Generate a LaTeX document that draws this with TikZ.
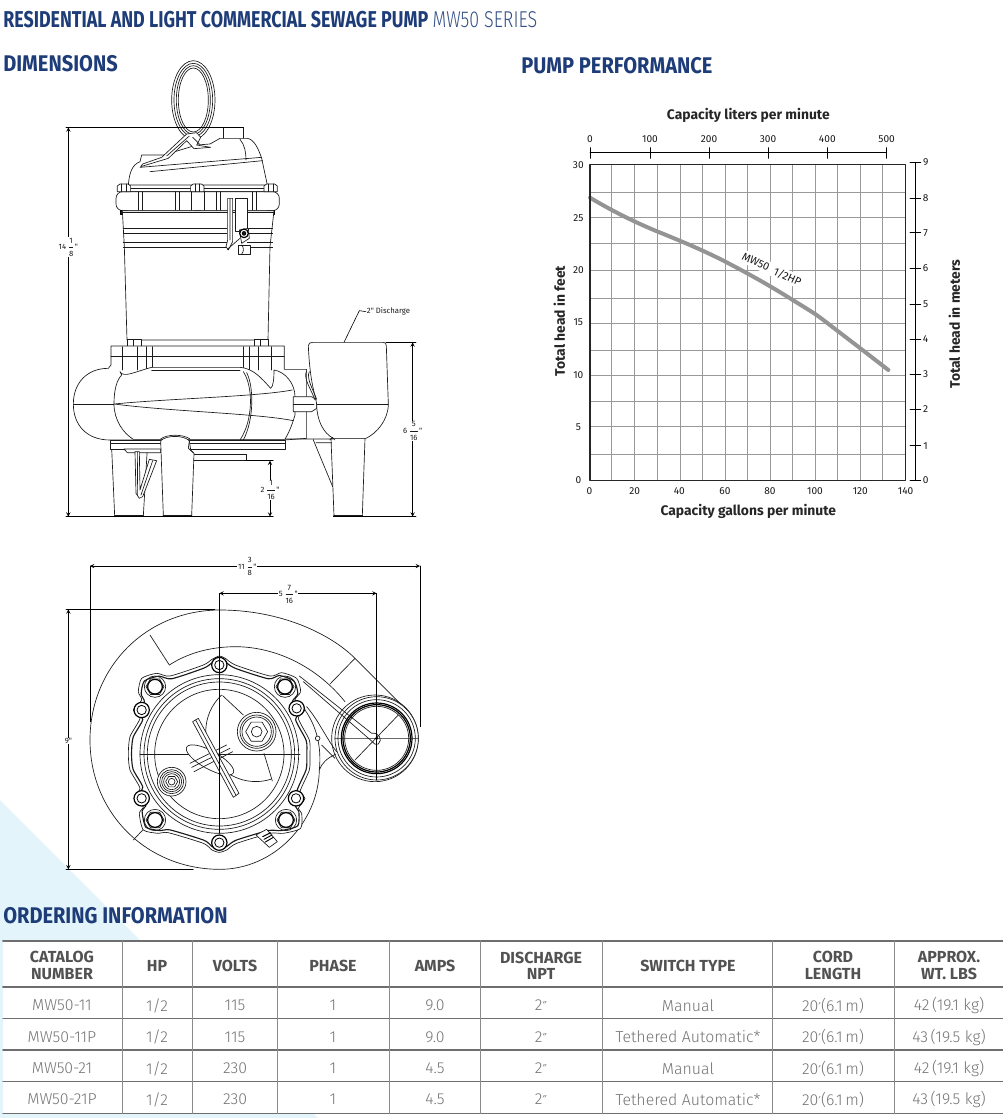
\documentclass[tikz,border=0pt]{standalone}
\usepackage{fontspec}
\setmainfont{Fira Sans}
\newfontfamily\headfont[FakeStretch=0.885]{Fira Sans}
\newfontfamily\titlefont[FakeStretch=0.78]{Fira Sans}
\newfontfamily\thinfont[FakeStretch=0.78]{Fira Sans Light}
\newfontfamily\lightfont{Fira Sans Light}
\newfontfamily\markfont{DejaVu Sans}
\definecolor{headblue}{HTML}{1D3C78}
\definecolor{paleblue}{HTML}{E3F5FA}
\definecolor{inkgray}{HTML}{1A1A1A}
\definecolor{cellgray}{HTML}{747474}
\definecolor{rulegray}{HTML}{6E6E6E}
\tikzset{
	heading/.style={anchor=base west,inner sep=0pt,text=headblue},
	pumpline/.style={line width=.5pt,draw=inkgray},
	dimline/.style={line width=.45pt,draw=black},
	dimlabel/.style={fill=white,inner sep=.5pt,font=\fontsize{5.8}{6}\selectfont,text=inkgray},
	axisnum/.style={font=\fontsize{7.6}{9}\selectfont,text=inkgray,inner sep=0pt},
	axistitle/.style={font=\fontsize{10.4}{12}\selectfont\bfseries,text=black!85,inner sep=0pt},
	cellhead/.style={font=\fontsize{12}{12.2}\selectfont\bfseries,text=black!68,align=center,inner sep=0pt},
	cellbody/.style={font=\lightfont\fontsize{11.9}{13}\selectfont,text=cellgray,inner sep=0pt},
}
\newcommand{\hexat}[3]{\draw[pumpline,shift={(#1,#2)}] (0:#3)--(60:#3)--(120:#3)--(180:#3)--(240:#3)--(300:#3)--cycle;}
\newcommand{\dimfrac}[3]{#1\,$\displaystyle\frac{\mbox{#2}}{\mbox{#3}}$\textquotedbl}
\newcommand{\inchmark}{{\markfont\fontsize{9}{9}\selectfont ″}}
\newcommand{\footmark}{{\markfont\fontsize{9}{9}\selectfont ′}}
\begin{document}
\begin{tikzpicture}[x=.75pt,y=-.75pt,>=stealth,line join=round,line cap=round]
	\useasboundingbox (0,0) rectangle (1003,1118);
	% background corner
	\fill[paleblue] (0,800)--(318,1118)--(0,1118)--cycle;
	% headings
	\node[heading] (title) at (3,27) {\titlefont\fontsize{17.2}{20}\selectfont\bfseries RESIDENTIAL AND LIGHT COMMERCIAL SEWAGE PUMP \thinfont\mdseries\color{headblue!90}MW50 SERIES};
	\node[heading] (dims) at (3,71) {\headfont\fontsize{17}{20}\selectfont\bfseries DIMENSIONS};
	\node[heading] (perf) at (521,73) {\headfont\fontsize{17}{20}\selectfont\bfseries PUMP PERFORMANCE};
	\node[heading] (order) at (3,923) {\headfont\fontsize{17}{20}\selectfont\bfseries ORDERING INFORMATION};

	% side view of the pump
	\begin{scope}[shift={(40,50)},scale=1/3]
		\foreach \rx/\ry in {65/118,58/110,51/103,45/96}
			\draw[pumpline] (460,150) ellipse ({\rx} and {\ry});
		% head
		\draw[pumpline,fill=white] (550,232) rectangle (610,268);
		\draw[pumpline,fill=white] (265,405) .. controls (268,370) and (275,345) .. (300,335) -- (305,315) -- (372,315) -- (470,285) -- (510,282) -- (540,265) -- (622,265) .. controls (642,268) and (655,295) .. (665,325) -- (682,405) -- cycle;
		\draw[pumpline] (300,352)--(665,322) (330,365)--(668,332) (600,268) .. controls (615,285) and (618,310) .. (618,330);
		\draw[pumpline,fill=white] (365,322)--(440,252)--(470,248)--(482,262)--(470,285)--(512,292)--(462,296)--(440,272)--(385,325)--(302,350)--(308,342)--cycle;
		\draw[pumpline] (380,318)--(448,258) (458,262)--(478,282);
		% flange and bolts
		\draw[pumpline,fill=white] (262,415)--(682,415)--(682,425)--(262,425)--cycle;
		\draw[pumpline,fill=white,rounded corners=5pt] (228,425) rectangle (718,482);
		\foreach \bx in {252,472,692} {
			\draw[pumpline,fill=white] (\bx-20,425)--(\bx-20,408)--(\bx-12,402)--(\bx+12,402)--(\bx+20,408)--(\bx+20,425)--cycle;
			\draw[pumpline] (\bx-7,402)--(\bx-7,425) (\bx+7,402)--(\bx+7,425);
			\draw[fill=inkgray] (\bx-10,482) rectangle (\bx+10,492);
		}
		\foreach \fx in {295,307,405,418,453,492,528,540,638,650}
			\draw[pumpline] (\fx,425)--(\fx,482);
		% motor housing
		\draw[pumpline,fill=white] (247,482)--(253,590)--(261,870)--(684,870)--(690,590)--(702,482)--cycle;
		\draw[pumpline] (247,487)--(702,487);
		\foreach \by in {535,550,578,592}
			\draw[pumpline] (250,\by)--(560,\by) (622,\by)--(698,\by);
		% switch bracket and cord clamp
		\draw[pumpline,fill=white] (563,445)--(578,445)--(578,575)--(565,600)--(558,590)--(563,570)--cycle;
		\draw[pumpline,fill=white] (587,445)--(622,445)--(622,545)--(587,545)--cycle;
		\draw[pumpline] (570,445)--(570,570) (562,598)--(600,565);
		\draw[pumpline,fill=white] (598,540)--(625,535)--(628,565)--(605,580)--cycle;
		\draw[line width=.9pt,fill=white] (612,550) circle (13);
		\draw[fill=inkgray] (612,550) circle (6);
		\draw[pumpline,fill=white] (595,585) rectangle (630,612);
		\draw[pumpline] (605,585) .. controls (612,592) and (612,605) .. (605,612);
		% volute
		\draw[pumpline,fill=white] (262,868) rectangle (305,890) (642,868) rectangle (685,890);
		\draw[pumpline] (280,868)--(280,890) (660,868)--(660,890);
		\draw[pumpline,fill=white] (213,888)--(733,888)--(733,958)--(800,958)--(800,1165)--(733,1170)--(210,1170) .. controls (140,1170) and (100,1125) .. (100,1062) .. controls (100,1000) and (140,955) .. (205,955) -- (213,945) -- cycle;
		\draw[pumpline] (213,920)--(733,920) (100,1062)--(222,1062);
		\foreach \nx in {248,292,320,336,610,628,655,695}
			\draw[pumpline] (\nx,890)--(\nx,960);
		\draw[pumpline,fill=white] (240,965) .. controls (250,985) and (285,965) .. (335,952) -- (600,952) .. controls (640,955) and (665,985) .. (692,1015) .. controls (700,1010) and (702,985) .. (702,960) .. controls (735,965) and (765,1000) .. (765,1040) -- (765,1095) .. controls (755,1130) and (745,1150) .. (735,1168) -- (280,1168) .. controls (250,1150) and (222,1110) .. (222,1062) .. controls (222,1020) and (230,990) .. (245,975) -- cycle;
		\draw[pumpline] (335,960)--(600,960);
		\draw[pumpline] (222,1062) .. controls (400,1045) and (650,1040) .. (757,1020) (222,1062) .. controls (400,1085) and (650,1090) .. (760,1112);
		\draw[pumpline] (610,965) .. controls (640,1010) and (640,1110) .. (600,1170) (620,968) .. controls (642,1010) and (642,1110) .. (610,1170);
		% discharge
		\draw[pumpline,fill=white] (760,1040)--(815,1040)--(830,1050)--(830,1075)--(815,1085)--(760,1085)--cycle;
		\draw[pumpline] (760,1062)--(822,1062);
		\draw[pumpline,fill=white] (805,888) .. controls (805,880) and (810,877) .. (818,877) -- (1030,877) .. controls (1036,877) and (1039,880) .. (1039,888) -- (1045,1062) .. controls (1045,1110) and (1010,1150) .. (978,1165) -- (880,1165) .. controls (850,1150) and (830,1110) .. (830,1062) .. controls (825,1030) and (810,1000) .. (805,888) -- cycle;
		\draw[pumpline] (830,1062)--(1045,1062);
		\draw[pumpline] (800,962) .. controls (788,985) and (815,1020) .. (825,1050) (808,965) .. controls (798,985) and (820,1020) .. (830,1048);
		% feet and struts
		\draw[pumpline,fill=white] (215,1195)--(224,1397)--(310,1397)--(322,1195)--cycle;
		\draw[pumpline,fill=white] (455,1212)--(618,1212)--(618,1232)--(455,1232)--cycle;
		\draw[pumpline,fill=white] (212,1170)--(735,1170)--(735,1197)--(212,1197)--cycle;
		\draw[pumpline] (212,1180)--(735,1180);
		\draw[pumpline,fill=white] (252,1197)--(262,1208)--(362,1208)--(362,1197)--cycle;
		\draw[pumpline,fill=white] (362,1172) .. controls (380,1155) and (430,1155) .. (448,1172) -- (452,1200) -- (462,1210) -- (455,1397) -- (370,1397) -- cycle;
		\draw[pumpline] (362,1167) .. controls (380,1152) and (430,1152) .. (450,1167) (448,1172)--(445,1195)--(460,1208);
		\draw[pumpline,fill=white] (285,1205)--(288,1330)--(298,1345)--(308,1340)--(350,1232)--(328,1228)--(300,1320)--(298,1205)--cycle;
		\draw[pumpline] (292,1205)--(293,1335) (338,1232)--(303,1335);
		\draw[pumpline,fill=white] (873,1165)--(882,1397)--(967,1397)--(975,1165)--cycle;
		\draw[pumpline] (735,1167)--(880,1167) (820,1170)--(878,1310) (828,1178)--(875,1178) (870,1170)--(877,1162)--(885,1170);
		\draw[pumpline,line width=.9pt] (224,1397)--(310,1397) (370,1397)--(455,1397) (882,1397)--(967,1397);
		% dimensions
		\draw[dimline] (78,232)--(610,232) (78,1400)--(700,1400) (880,1400)--(1128,1400) (618,1232)--(700,1232) (1038,877)--(1128,877);
		\draw[dimline,<->] (85,232)--(85,1400);
		\draw[dimline,<->] (690,1232)--(690,1400);
		\draw[dimline,<->] (1118,877)--(1118,1400);
		\node[dimlabel] (dimall) at (85,592) {\dimfrac{14}{1}{8}};
		\node[dimlabel] (dimfoot) at (690,1320) {\dimfrac{2}{1}{16}};
		\node[dimlabel] (dimdis) at (1118,1143) {\dimfrac{6}{5}{16}};
		\node[dimlabel,anchor=west,fill=none] (dislabel) at (978,785) {2\textquotedbl{} Discharge};
		\coordinate (disfoot) at (912,877);
		\draw[dimline] (disfoot)--(958,782)--(dislabel.west);
	\end{scope}

	% top view of the pump
	\begin{scope}[shift={(40,550)},scale=1/3]
		% volute
		\draw[pumpline] (1085,465)--(945,325) .. controls (870,250) and (720,180) .. (540,180) .. controls (320,180) and (150,350) .. (150,570) .. controls (150,790) and (320,958) .. (540,958) .. controls (700,958) and (835,820) .. (838,660) .. controls (845,640) and (860,625) .. (888,612);
		\draw[pumpline] (388,345) .. controls (450,305) and (520,290) .. (590,290) .. controls (710,292) and (830,350) .. (915,455);
		\draw[pumpline] (330,255)--(388,345) (945,325)--(870,402) (280,870)--(312,836);
		\draw[pumpline] (795,480) .. controls (830,530) and (845,590) .. (838,660) (800,470) .. controls (835,510) and (865,575) .. (890,605) (845,585)--(885,625);
		% discharge ring
		\draw[pumpline] (1005,565) circle (130);
		\draw[pumpline,fill=white] (1010,565) circle (125);
		\draw[pumpline] (1010,565) circle (116);
		\draw[line width=.9pt] (1010,565) circle (106);
		\draw[line width=.9pt] (1010,565) circle (101);
		\draw[pumpline] (1010,565) circle (96);
		\draw[pumpline] (885,565)--(1135,565) (1010,432)--(1010,690) (945,630)--(1075,495);
		\draw[pumpline] (778,378)--(995,550) .. controls (1015,545) and (1030,570) .. (1015,582) .. controls (1005,585) and (1000,580) .. (997,575) -- (790,395);
		\draw[fill=inkgray] (1010,565) circle (4);
		% head plate
		\foreach \sc/\lw in {1/.5,.965/.85} {
			\draw[draw=inkgray,line width=\lw pt,fill=white,shift={(538,612)},scale=\sc] plot[smooth cycle,tension=.4] coordinates {(0,-294)(18,-287)(48,-267)(152,-234)(187,-244)(232,-227)(244,-187)(227,-162)(257,-134)(237,-107)(270,-42)(272,0)(270,48)(242,113)(257,133)(237,163)(247,178)(244,223)(192,238)(152,238)(52,268)(22,288)(0,295)(-22,288)(-48,268)(-153,236)(-183,238)(-228,228)(-240,178)(-228,158)(-256,133)(-238,103)(-268,48)(-273,0)(-268,-52)(-238,-107)(-258,-132)(-233,-162)(-243,-187)(-233,-227)(-188,-242)(-148,-234)(-48,-267)(-22,-284)};
		}
		\foreach \r in {238,226,216,194}
			\draw[pumpline] (538,612) circle (\r);
		\draw[pumpline] (300,612)--(780,612);
		% handle, float and plugs
		\draw[pumpline] (548,437)--(610,495) (672,610)--(697,693);
		\draw[pumpline] (545,435) arc (-133:-288:150);
		\foreach \r in {58,50,44}
			\draw[pumpline,fill=white] (650,545) circle (\r);
		\hexat{650}{545}{33}
		\draw[pumpline] (650,545) circle (16);
		\foreach \r in {43,36,30,24}
			\draw[pumpline,fill=white] (395,695) circle (\r);
		\hexat{395}{695}{18}
		\draw[pumpline] (395,695) circle (10);
		\draw[pumpline,fill=white,rotate around={-29:(510,630)}] (510,630) ellipse (80 and 27);
		\draw[pumpline] (455,652)--(570,595) (450,640)--(560,585) (462,665)--(578,605);
		\draw[pumpline,fill=white] (458,515)--(475,505)--(597,730)--(580,742)--cycle;
		\draw[pumpline] (467,510)--(588,736);
		% head bolts
		\foreach \bx/\by in {345/410,735/410,345/810,738/810} {
			\draw[pumpline] (\bx,\by) circle (32);
			\hexat{\bx}{\by}{27}
			\draw[line width=.9pt] (\bx,\by) circle (22);
		}
		\foreach \bx/\by in {538/345,538/878,305/480,770/475,305/745,768/745} {
			\draw[line width=.9pt,fill=white] (\bx,\by) circle (23);
			\draw[line width=.6pt] (\bx,\by) circle (14);
		}
		\draw[pumpline,fill=white] (833,565) circle (7);
		\draw[pumpline,fill=white] (648,855)--(680,838)--(712,875)--(688,892)--cycle;
		\draw[line width=.7pt] (668,860)--(692,848) (672,868)--(696,855) (676,876)--(700,862);
		% dimensions
		\draw[dimline] (78,178)--(525,178) (78,958)--(460,958);
		\draw[dimline,<->] (85,178)--(85,958);
		\draw[dimline,<->] (150,48)--(1140,48);
		\draw[dimline,<->] (538,130)--(1010,130);
		\draw[dimline] (150,48)--(150,515) (1140,48)--(1140,530) (538,130)--(538,850) (1010,130)--(1010,690);
		\node[dimlabel] (dimwide) at (622,50) {\dimfrac{11}{3}{8}};
		\node[dimlabel] (dimcentre) at (745,133) {\dimfrac{5}{7}{16}};
		\node[dimlabel] (dimdeep) at (85,573) {9\textquotedbl};
	\end{scope}

	% performance chart
	\begin{scope}[shift={(540,100)},scale=1/3]
		\foreach \gx in {214,283,351,420,488,556,623,690,758,825,893,961,1027}
			\draw[draw=black!40,line width=.75pt] (\gx,193)--(\gx,1142);
		\foreach \gy in {277,353,430,510,595,670,750,826,905,980,1062}
			\draw[draw=black!40,line width=.75pt] (150,\gy)--(1097,\gy);
		\node[font=\fontsize{8.2}{9}\selectfont,text=inkgray,rotate=-25,fill=white,inner sep=1pt] (curvelabel) at (695,508) {MW50\ \ 1/2HP};
		\draw[draw=black!42,line width=3pt] (150,293) .. controls (215,332) and (283,366) .. (351,394) .. controls (420,422) and (488,450) .. (556,485) .. controls (623,520) and (690,557) .. (758,600) .. controls (790,620) and (825,640) .. (850,660) -- (961,745) -- (1045,810);
		\draw[draw=black!85,line width=1pt] (150,193) rectangle (1097,1142);
		\draw[line width=.6pt] (150,157)--(1040,157);
		\foreach \lx/\lv in {150/0,330/100,507/200,684/300,862/400,1040/500} {
			\draw[line width=.6pt] (\lx,143)--(\lx,175);
			\node[axisnum] (top\lv) at (\lx,118) {\lv};
		}
		\foreach \fy/\fv in {195/30,353/25,510/20,668/15,825/10,982/5,1140/0}
			\node[axisnum] (left\fv) at (115,\fy) {\fv};
		\foreach \bx/\bv in {148/0,284/20,418/40,555/60,690/80,825/100,961/120,1097/140}
			\node[axisnum] (bot\bv) at (\bx,1173) {\bv};
		\draw[line width=.6pt] (1127,188)--(1127,1140);
		\foreach \my/\mv in {188/9,295/8,398/7,505/6,612/5,718/4,822/3,928/2,1037/1,1140/0} {
			\draw[line width=.6pt] (1110,\my)--(1142,\my);
			\node[axisnum] (right\mv) at (1157,\my) {\mv};
		}
		\node[axistitle] (toptitle) at (625,46) {Capacity liters per minute};
		\node[axistitle] (bottitle) at (625,1235) {Capacity gallons per minute};
		\node[axistitle,rotate=90] (lefttitle) at (58,663) {Total head in feet};
		\node[axistitle,rotate=90] (righttitle) at (1243,672) {Total head in meters};
	\end{scope}

	% ordering table
	\fill[white] (3,941) rectangle (1003,1113);
	\foreach \ry/\rw in {941/1.5,987/1.5,1018.3/.9,1050/1.2,1081.7/.9,1113.3/1}
		\draw[draw=rulegray,line width=\rw pt] (3,\ry)--(1003,\ry);
	\foreach \cx in {122.7,192.7,277.7,389.3,480.7,602.7,772.3,894.3}
		\draw[draw=rulegray!80,line width=1pt] (\cx,941)--(\cx,1113.3);
	\foreach \cx/\ctext [count=\c] in {62/{CATALOG\\NUMBER},157/HP,235/VOLTS,333/PHASE,435/AMPS,541/{DISCHARGE\\NPT},688/SWITCH TYPE,833/{CORD\\LENGTH},949/{APPROX.\\WT. LBS}}
		\node[cellhead] (head\c) at (\cx,965.5) {\ctext};
	\foreach \ry/\cat/\volt/\amp/\swt/\wgt [count=\r] in {1005.5/MW50-11/115/9.0/Manual/42\,(19.1 kg),1037/MW50-11P/115/9.0/Tethered Automatic*/43\,(19.5 kg),1068.5/MW50-21/230/4.5/Manual/42\,(19.1 kg),1099.5/MW50-21P/230/4.5/Tethered Automatic*/43\,(19.5 kg)} {
		\node[cellbody] (cat\r) at (62,\ry) {\cat};
		\node[cellbody] (hp\r) at (157,\ry) {1/2};
		\node[cellbody] (volt\r) at (235,\ry) {\volt};
		\node[cellbody] (phase\r) at (333,\ry) {1};
		\node[cellbody] (amp\r) at (435,\ry) {\amp};
		\node[cellbody] (npt\r) at (541,\ry) {2\inchmark};
		\node[cellbody] (switch\r) at (688,\ry) {\swt};
		\node[cellbody] (cord\r) at (833,\ry) {20\footmark(6.1\,m)};
		\node[cellbody] (wgt\r) at (949,\ry) {\wgt};
	}
\end{tikzpicture}
\end{document}
